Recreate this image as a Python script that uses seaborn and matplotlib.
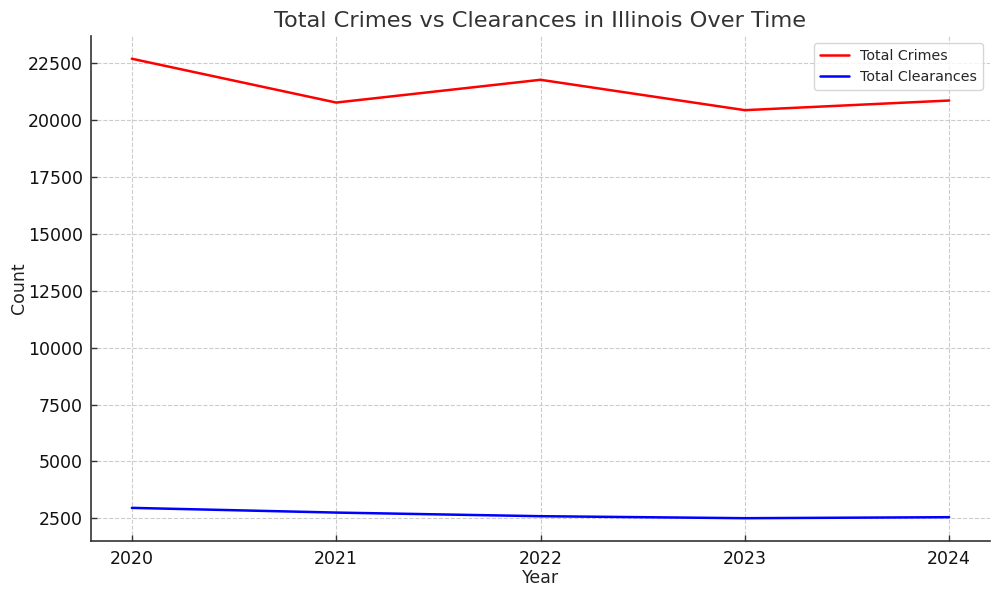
import pandas as pd
import matplotlib
matplotlib.use("Agg")
import matplotlib.pyplot as plt
import seaborn as sns

# dati
years = [2020, 2021, 2022, 2023, 2024]
total_crimes = [22707, 20780, 21781, 20445, 20869]
total_clearances = [2954, 2747, 2588, 2500, 2544]

df = pd.DataFrame({"Year": years, "Total Crimes": total_crimes, "Total Clearances": total_clearances})

sns.set_style("ticks")
plt.rcParams['font.family'] = ['DejaVu Sans']

fig, ax = plt.subplots(figsize=(10, 5.96), dpi=100)
sns.lineplot(data=df, x="Year", y="Total Crimes", color="red", linewidth=1.8, label="Total Crimes", ax=ax)
sns.lineplot(data=df, x="Year", y="Total Clearances", color="blue", linewidth=1.8, label="Total Clearances", ax=ax)

ax.set_xticks(years)
ax.set_title("Total Crimes vs Clearances in Illinois Over Time", fontsize=16.2, color="#333333")
ax.set_xlabel("Year", fontsize=12.5, color="#222222", labelpad=1)
ax.set_ylabel("Count", fontsize=12.5, color="#222222", labelpad=0)
ax.tick_params(labelsize=12.5, direction="in", length=4, width=1, colors="#333333", labelcolor="#111111", pad=6)
ax.grid(True, linestyle="--", color="#cccccc", linewidth=0.8)
sns.despine(ax=ax)
for s in ["left", "bottom"]:
    ax.spines[s].set_linewidth(1.2)
    ax.spines[s].set_color("#333333")
ax.legend(loc="upper right", fontsize=10.3)

fig.subplots_adjust(left=0.091, right=0.99, top=0.94, bottom=0.092)
fig.savefig("out.png", dpi=100)
